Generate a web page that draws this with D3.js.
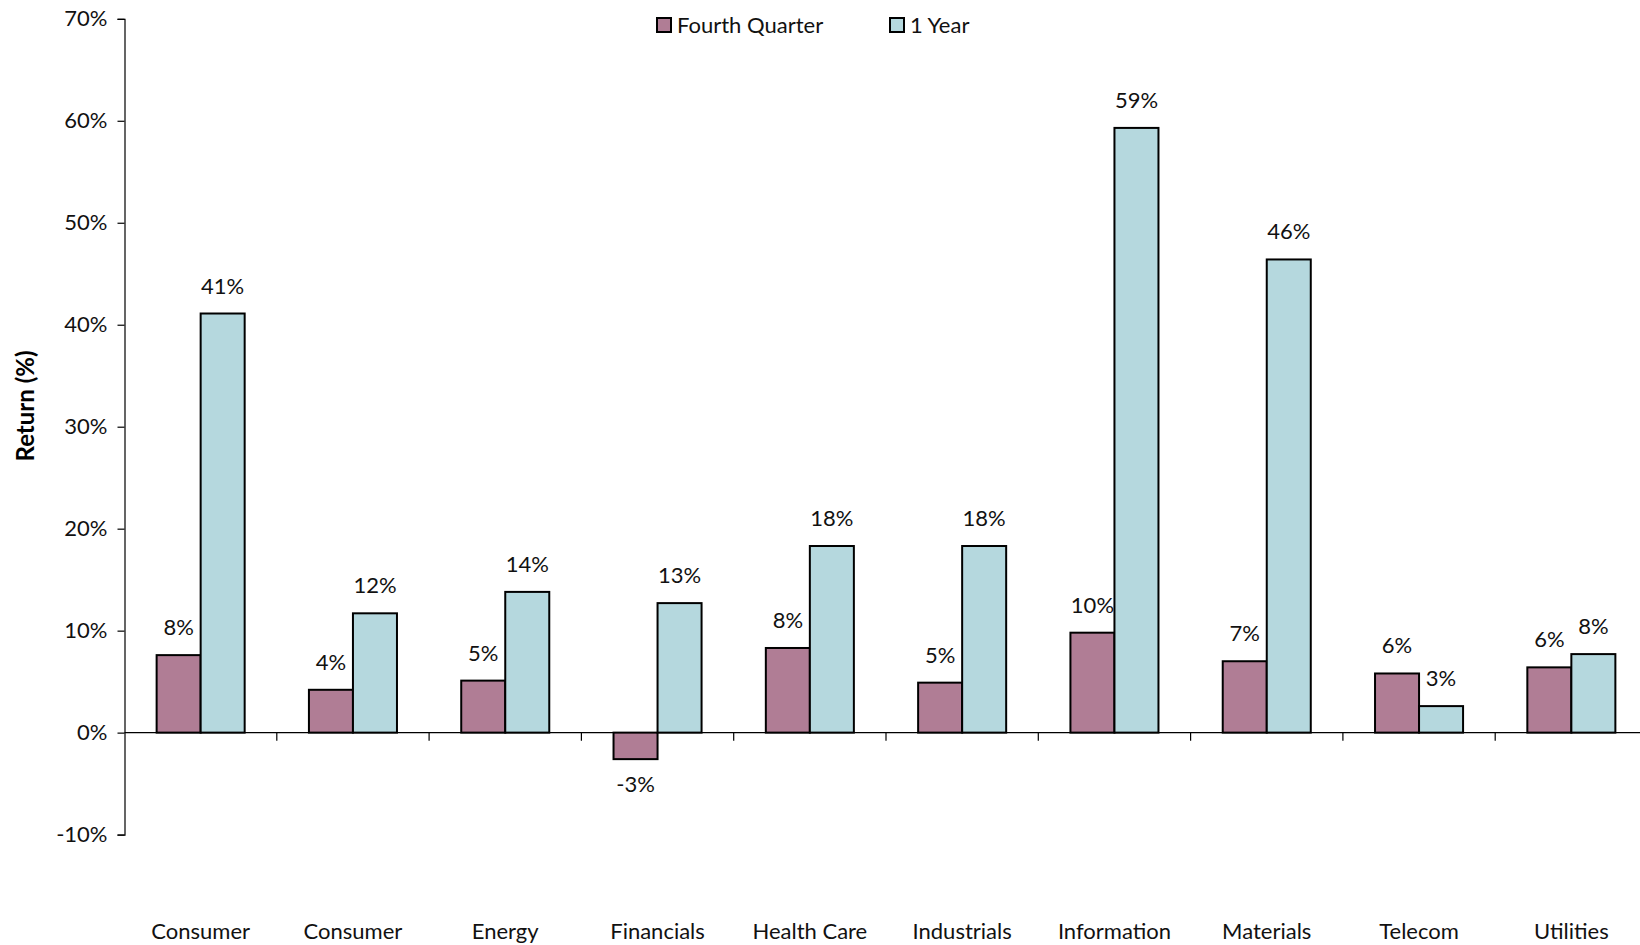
<!DOCTYPE html>
<html>
<head>
<meta charset="utf-8">
<script src="https://cdn.jsdelivr.net/npm/d3@7"></script>
<style>
  html, body { margin: 0; padding: 0; background: #fff; }
  svg { display: block; font-family: Lato, 'Open Sans', sans-serif; }
</style>
</head>
<body>
<div id="chart"></div>
<script>
const categories = ['Consumer', 'Consumer', 'Energy', 'Financials', 'Health Care',
  'Industrials', 'Information', 'Materials', 'Telecom', 'Utilities'];
const fourthQuarter = [7.6, 4.2, 5.1, -2.6, 8.3, 4.9, 9.8, 7.0, 5.8, 6.4];
const oneYear = [41.1, 11.7, 13.8, 12.7, 18.3, 18.3, 59.3, 46.4, 2.6, 7.7];
const yTicks = [-10, 0, 10, 20, 30, 40, 50, 60, 70];
const seriesNames = ['Fourth Quarter', '1 Year'];

const WIDTH = 1640;
const HEIGHT = 945;
const COLORS = { q4: '#b07d95', y1: '#b5d8de' };
const FONT_SIZE = 22;

const svg = d3.select('#chart')
  .append('svg')
  .attr('width', WIDTH)
  .attr('height', HEIGHT);

// slots keep duplicate names apart
const slots = categories.map((c, i) => i);

const x = d3.scaleBand()
  .domain(slots)
  .range([124.5, 124.5 + 10 * 152.3])
  .padding(0);

const xs = d3.scaleBand()
  .domain(['q4', 'y1'])
  .range([0, x.bandwidth()])
  .paddingInner(0)
  .paddingOuter(0.73);

const y = d3.scaleLinear()
  .domain([-10, 70])
  .range([834.6, 18.8]);

// y axis
const yAxis = svg.append('g')
  .attr('transform', `translate(${x.range()[0]},0)`)
  .call(d3.axisLeft(y).tickValues(yTicks).tickSize(7).tickPadding(10).tickFormat((d) => `${d}%`));
yAxis.select('.domain').attr('stroke', '#000').attr('stroke-width', 1.2);
yAxis.selectAll('.tick line').attr('stroke', '#000').attr('stroke-width', 1.2);
yAxis.selectAll('.tick text')
  .attr('font-size', FONT_SIZE)
  .attr('font-family', 'Lato, sans-serif')
  .attr('fill', '#111');

svg.append('text')
  .attr('transform', 'translate(34,406) rotate(-90)')
  .attr('text-anchor', 'middle')
  .attr('font-size', 24)
  .attr('font-weight', 'bold')
  .attr('fill', '#000')
  .text('Return (%)');

// category ticks at band edges along the zero line
const edges = slots.map((s) => x(s)).concat([x.range()[1]]);
svg.append('line')
  .attr('x1', x.range()[0]).attr('x2', x.range()[1])
  .attr('y1', y(0)).attr('y2', y(0))
  .attr('stroke', '#000').attr('stroke-width', 1.2);
svg.selectAll('.xtick')
  .data(edges.slice(1))
  .join('line')
  .attr('class', 'xtick')
  .attr('x1', (d) => d).attr('x2', (d) => d)
  .attr('y1', y(0)).attr('y2', y(0) + 8)
  .attr('stroke', '#000').attr('stroke-width', 1.2);

svg.selectAll('.cat')
  .data(slots)
  .join('text')
  .attr('class', 'cat')
  .attr('x', (d) => x(d) + x.bandwidth() / 2)
  .attr('y', 939)
  .attr('text-anchor', 'middle')
  .attr('font-size', FONT_SIZE)
  .attr('fill', '#111')
  .text((d) => categories[d]);

function drawSeries(key, values) {
  const g = svg.append('g');
  g.selectAll('rect')
    .data(slots)
    .join('rect')
    .attr('x', (d) => x(d) + xs(key))
    .attr('y', (d) => y(Math.max(0, values[d])))
    .attr('width', xs.bandwidth())
    .attr('height', (d) => Math.abs(y(values[d]) - y(0)))
    .attr('fill', COLORS[key])
    .attr('stroke', '#000')
    .attr('stroke-width', 2);
  g.selectAll('text')
    .data(slots)
    .join('text')
    .attr('x', (d) => x(d) + xs(key) + xs.bandwidth() / 2)
    .attr('y', (d) => values[d] >= 0 ? y(values[d]) - 20 : y(values[d]) + 33)
    .attr('text-anchor', 'middle')
    .attr('font-size', FONT_SIZE)
    .attr('fill', '#111')
    .text((d) => `${Math.round(values[d])}%`);
}

drawSeries('q4', fourthQuarter);
drawSeries('y1', oneYear);

// legend
const legendItems = [
  { label: seriesNames[0], color: COLORS.q4, x: 657 },
  { label: seriesNames[1], color: COLORS.y1, x: 890 },
];
const legend = svg.append('g');
legendItems.forEach((item) => {
  legend.append('rect')
    .attr('x', item.x).attr('y', 18)
    .attr('width', 14).attr('height', 14)
    .attr('fill', item.color)
    .attr('stroke', '#000')
    .attr('stroke-width', 2);
  legend.append('text')
    .attr('x', item.x + 20).attr('y', 33)
    .attr('font-size', FONT_SIZE)
    .attr('fill', '#111')
    .text(item.label);
});
</script>
</body>
</html>
